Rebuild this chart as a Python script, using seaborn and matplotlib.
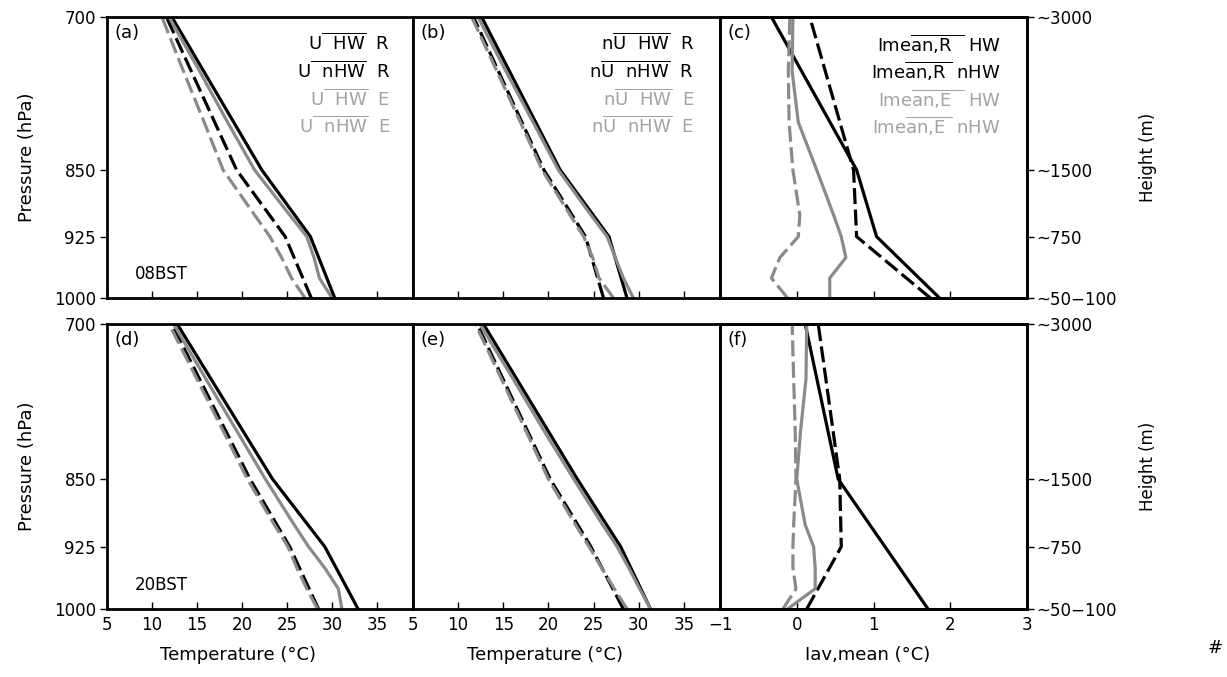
import numpy as np
import pandas as pd
import matplotlib
matplotlib.use("Agg")
import matplotlib.pyplot as plt
import seaborn as sns
from matplotlib.ticker import NullLocator, FixedLocator

# ---------------- data ----------------
P_R = [1000, 925, 850, 700]
P_E = [1000, 975, 950, 925, 900, 850, 800, 750, 700]

# (a) 08BST, U
a_HW_R = [30.3, 27.6, 22.2, 12.2]
a_nHW_R = [27.7, 24.8, 19.4, 11.6]
a_HW_E = [30.0, 28.6, 28.0, 27.2, 25.3, 21.4, 18.4, 15.3, 11.9]
a_nHW_E = [27.0, 25.5, 24.4, 23.1, 21.4, 17.9, 15.8, 13.5, 11.1]
# (b) 08BST, nU
b_HW_R = [28.7, 26.7, 21.3, 12.6]
b_nHW_R = [26.1, 24.1, 19.5, 11.7]
b_HW_E = [29.4, 28.3, 27.4, 26.5, 24.7, 21.1, 18.3, 15.3, 12.2]
b_nHW_E = [27.2, 25.6, 24.9, 23.9, 22.4, 19.3, 16.9, 14.3, 11.5]
# (c) 08BST, Imean
c_HW_R = [1.86, 1.04, 0.78, -0.33]
c_nHW_R = [1.74, 0.78, 0.74, 0.17]
c_HW_E = [0.43, 0.43, 0.64, 0.58, 0.48, 0.26, 0.02, -0.06, -0.05]
c_nHW_E = [-0.12, -0.33, -0.22, 0.02, 0.04, -0.05, -0.10, -0.11, -0.09]
# (d) 20BST, U
d_HW_R = [32.9, 29.2, 23.4, 12.8]
d_nHW_R = [28.5, 25.3, 20.9, 12.2]
d_HW_E = [31.1, 30.7, 29.2, 27.4, 25.8, 22.6, 19.4, 16.0, 12.4]
d_nHW_E = [28.4, 27.2, 26.1, 25.1, 23.6, 20.6, 17.9, 15.0, 11.9]
# (e) 20BST, nU
e_HW_R = [31.3, 28.0, 23.2, 12.8]
e_nHW_R = [28.3, 24.7, 20.2, 12.1]
e_HW_E = [31.3, 30.1, 28.9, 27.6, 26.0, 22.8, 19.5, 16.1, 12.4]
e_nHW_E = [28.7, 27.3, 25.9, 24.5, 23.0, 20.0, 17.5, 14.8, 11.9]
# (f) 20BST, Imean
f_HW_R = [1.71, 1.15, 0.54, 0.11]
f_nHW_R = [0.13, 0.58, 0.56, 0.28]
f_HW_E = [-0.12, 0.24, 0.24, 0.22, 0.11, 0.00, 0.05, 0.12, 0.13]
f_nHW_E = [-0.18, -0.01, -0.05, -0.05, -0.04, -0.01, -0.02, -0.04, -0.06]

p_ticks = [700, 850, 925, 1000]
p_ticklabels = ["700", "850", "925", "1000"]
h_ticklabels = ["~3000", "~1500", "~750", "~50\u2212100"]
t_ticks = [5, 10, 15, 20, 25, 30, 35]
i_ticks = [-1, 0, 1, 2, 3]
i_ticklabels = ["\u22121", "0", "1", "2", "3"]

legend_a = [r"U$\overline{\ \ \mathrm{HW}}$  R",
            r"U$\overline{\ \ \mathrm{nH}}\overline{\mathrm{W}}$  R",
            r"U$\overline{\ \ \mathrm{HW}}$  E",
            r"U$\overline{\ \ \mathrm{nH}}\overline{\mathrm{W}}$  E"]
legend_b = [r"n$\overline{\mathrm{U}\ \ \mathrm{HW}}$  R",
            r"n$\overline{\mathrm{U}\ \ \mathrm{n}}\overline{\mathrm{HW}}$  R",
            r"n$\overline{\mathrm{U}\ \ \mathrm{HW}}$  E",
            r"n$\overline{\mathrm{U}\ \ \mathrm{n}}\overline{\mathrm{HW}}$  E"]
legend_c = [r"Ime$\overline{\mathrm{an{,}R}\ \ }$ HW",
            r"Ime$\overline{\mathrm{an{,}R}\ }$ nHW",
            r"Ime$\overline{\mathrm{an{,}E}\ \ }$ HW",
            r"Ime$\overline{\mathrm{an{,}E}\ }$ nHW"]

# ---------------- style ----------------
sns.set_style("white")
plt.rcParams["font.family"] = ["DejaVu Sans"]
plt.rcParams["mathtext.fontset"] = "dejavusans"
for key in ["text.color", "axes.labelcolor", "xtick.color", "ytick.color",
            "axes.edgecolor"]:
    plt.rcParams[key] = "black"

BLACK = "#000000"
GREY = "#8a8a8a"
GREY_TXT = "#a3a3a3"
LW = 2.3
DASH = (0, (5.0, 1.7))

fig = plt.figure(figsize=(12.27, 6.77), dpi=100)
W, H = 1227.0, 677.0

cols = [(107, 413), (413, 720), (720, 1027)]
rows = [(17, 298), (324, 609)]


def make_ax(r, c):
    x0, x1 = cols[c]
    y0, y1 = rows[r]
    return fig.add_axes([x0 / W, 1 - y1 / H, (x1 - x0) / W, (y1 - y0) / H])


def draw(ax, hw_r, nhw_r, hw_e, nhw_e):
    sns.lineplot(x=hw_r, y=P_R, sort=False, estimator=None, ax=ax,
                 color=BLACK, lw=LW)
    sns.lineplot(x=nhw_r, y=P_R, sort=False, estimator=None, ax=ax,
                 color=BLACK, lw=LW, linestyle=DASH)
    sns.lineplot(x=hw_e, y=P_E, sort=False, estimator=None, ax=ax,
                 color=GREY, lw=LW)
    sns.lineplot(x=nhw_e, y=P_E, sort=False, estimator=None, ax=ax,
                 color=GREY, lw=LW, linestyle=DASH)


def style_ax(ax, r, c):
    ax.set_yscale("log")
    ax.set_ylim(1000, 700)
    ax.yaxis.set_major_locator(FixedLocator(p_ticks))
    ax.yaxis.set_minor_locator(NullLocator())
    if c < 2:
        ax.set_xlim(5, 39)
        ax.set_xticks(t_ticks)
        ax.set_xticklabels([str(t) for t in t_ticks])
    else:
        ax.set_xlim(-1, 3)
        ax.set_xticks(i_ticks)
        ax.set_xticklabels(i_ticklabels)
    ax.tick_params(axis="x", direction="in", length=5, width=1,
                   labelsize=12, pad=5, bottom=True, top=False,
                   labelbottom=(r == 1))
    ax.set_xlabel("")
    ax.set_ylabel("")
    for s in ax.spines.values():
        s.set_linewidth(2.0)
        s.set_color("black")
    if c == 2:
        tw = ax.twinx()
        tw.set_yscale("log")
        tw.set_ylim(1000, 700)
        tw.yaxis.set_major_locator(FixedLocator(p_ticks))
        tw.yaxis.set_minor_locator(NullLocator())
        tw.set_yticklabels(h_ticklabels)
        tw.tick_params(axis="y", direction="out", length=5, width=1,
                       labelsize=12, pad=2, left=False, labelleft=False,
                       right=True, labelright=True)
        for s in tw.spines.values():
            s.set_linewidth(2.0)
    if c == 0:
        ax.set_yticklabels(p_ticklabels)
        ax.tick_params(axis="y", direction="out", length=5, width=1,
                       labelsize=12, pad=3, left=True, right=False)
    else:
        ax.tick_params(axis="y", left=False, labelleft=False, right=False,
                       labelright=False)


data = [[(a_HW_R, a_nHW_R, a_HW_E, a_nHW_E),
         (b_HW_R, b_nHW_R, b_HW_E, b_nHW_E),
         (c_HW_R, c_nHW_R, c_HW_E, c_nHW_E)],
        [(d_HW_R, d_nHW_R, d_HW_E, d_nHW_E),
         (e_HW_R, e_nHW_R, e_HW_E, e_nHW_E),
         (f_HW_R, f_nHW_R, f_HW_E, f_nHW_E)]]
letters = [["(a)", "(b)", "(c)"], ["(d)", "(e)", "(f)"]]
legends = [legend_a, legend_b, legend_c]
legend_right = [0.925, 0.915, 0.915]

for r in range(2):
    for c in range(3):
        ax = make_ax(r, c)
        draw(ax, *data[r][c])
        style_ax(ax, r, c)
        ax.text(0.025, 0.975, letters[r][c], transform=ax.transAxes,
                ha="left", va="top", fontsize=13)
        if r == 0:
            for k, s in enumerate(legends[c]):
                ax.text(legend_right[c], 0.905 - k * 0.098, s,
                        transform=ax.transAxes, ha="right", va="center",
                        fontsize=13, color=BLACK if k < 2 else GREY_TXT)
        if c == 0:
            ax.text(0.09, 0.085, "08BST" if r == 0 else "20BST",
                    transform=ax.transAxes, ha="left", va="center",
                    fontsize=12)

# axis titles
for (y0, y1) in rows:
    yc = 1 - (y0 + y1) / 2 / H
    fig.text(27 / W, yc, "Pressure (hPa)", rotation=90, ha="center",
             va="center", fontsize=13)
    fig.text(1148 / W, yc, "Height (m)", rotation=90, ha="center",
             va="center", fontsize=12)
fig.text(238 / W, 1 - 655 / H, "Temperature (\u00b0C)", ha="center",
         va="center", fontsize=13)
fig.text(545 / W, 1 - 655 / H, "Temperature (\u00b0C)", ha="center",
         va="center", fontsize=13)
fig.text(868 / W, 1 - 655 / H, "Iav,mean (\u00b0C)", ha="center",
         va="center", fontsize=13)
fig.text(1215 / W, 1 - 648 / H, "#", ha="center", va="center", fontsize=13)

fig.savefig("out.png", dpi=100)
